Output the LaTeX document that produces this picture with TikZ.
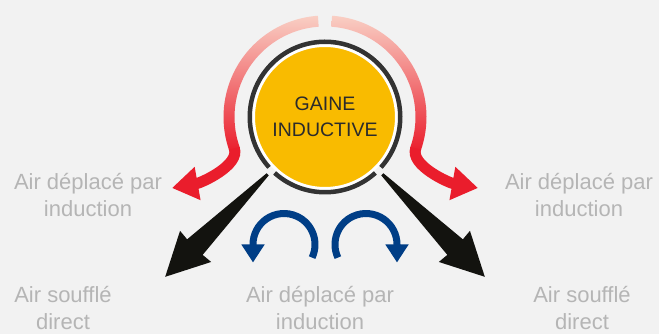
\documentclass[tikz,border=0pt]{standalone}
\usepackage{fontspec}
\setmainfont{Liberation Sans}
\usepackage{tikz}
\usetikzlibrary{positioning, calc, arrows.meta}

\definecolor{fond}{HTML}{F2F2F2}
\definecolor{jaune}{HTML}{F9BB00}
\definecolor{anneau}{HTML}{333333}
\definecolor{rouge}{HTML}{EA1D2C}
\definecolor{rose}{HTML}{F9CFC4}
\definecolor{bleu}{HTML}{003E86}
\definecolor{noir}{HTML}{13130F}
\definecolor{gris}{HTML}{B5B5B5}
\definecolor{texte}{HTML}{2B2B2B}

\tikzset{
  gaine/.style={circle, fill=jaune, draw=white, line width=3pt, minimum size=143pt,
    inner sep=0pt, align=center, text=texte, font=\fontsize{19.5}{26}\selectfont},
  legende/.style={align=center, text=gris, inner sep=0pt, font=\fontsize{22}{27}\selectfont},
}

\begin{document}
\begin{tikzpicture}[x=1pt, y=1pt]

\fill[fond] (0,0) rectangle (659,334);
\useasboundingbox (0,0) rectangle (659,334);

\node[gaine] (gaine) at (325,217) {GAINE\\INDUCTIVE};

%// anneau autour de la gaine
\begin{scope}[shift={(gaine.center)}]
\draw[anneau, line width=4.5] (-42:75.25) arc[start angle=-42, end angle=222, radius=75.25];
\draw[anneau, line width=4.5] (228:75.25) arc[start angle=228, end angle=312, radius=75.25];
\end{scope}

%// fleches, cote gauche puis cote droit
\foreach \s in {1,-1}{
\begin{scope}[shift={(gaine.center)}, xscale=\s]
  \shade[top color=rose, bottom color=rouge] (94:101.5) arc[start angle=94, end angle=200, radius=101.5]
    -- (200:90.5) arc[start angle=200, end angle=94, radius=90.5] -- cycle;
  \draw[rouge, line width=11, -{Triangle[length=26pt, width=32pt]}]
    (199:96) .. controls +(290:18) and +(10:30) .. (-153,-71);
  \fill[noir, rotate=225] (81,1.5) -- (184,11) -- (183,22) -- (226,0)
    -- (183,-22) -- (184,-11) -- (81,-1.5) -- cycle;
  \draw[bleu, line width=7, -{Triangle[length=18pt, width=22pt]}, shift={(-41,-127.5)}]
    (-25:31) arc[start angle=-25, end angle=180, radius=31] -- ++(0,-18);
\end{scope}
}

\node[legende] (indg) at (88,139) {Air déplacé par\\induction};
\node[legende] (indd) at (579,139) {Air déplacé par\\induction};
\node[legende] (soufg) at (63,26) {Air soufflé\\direct};
\node[legende] (soufd) at (582,26) {Air soufflé\\direct};
\node[legende] (indm) at (320,26) {Air déplacé par\\induction};

\end{tikzpicture}
\end{document}
